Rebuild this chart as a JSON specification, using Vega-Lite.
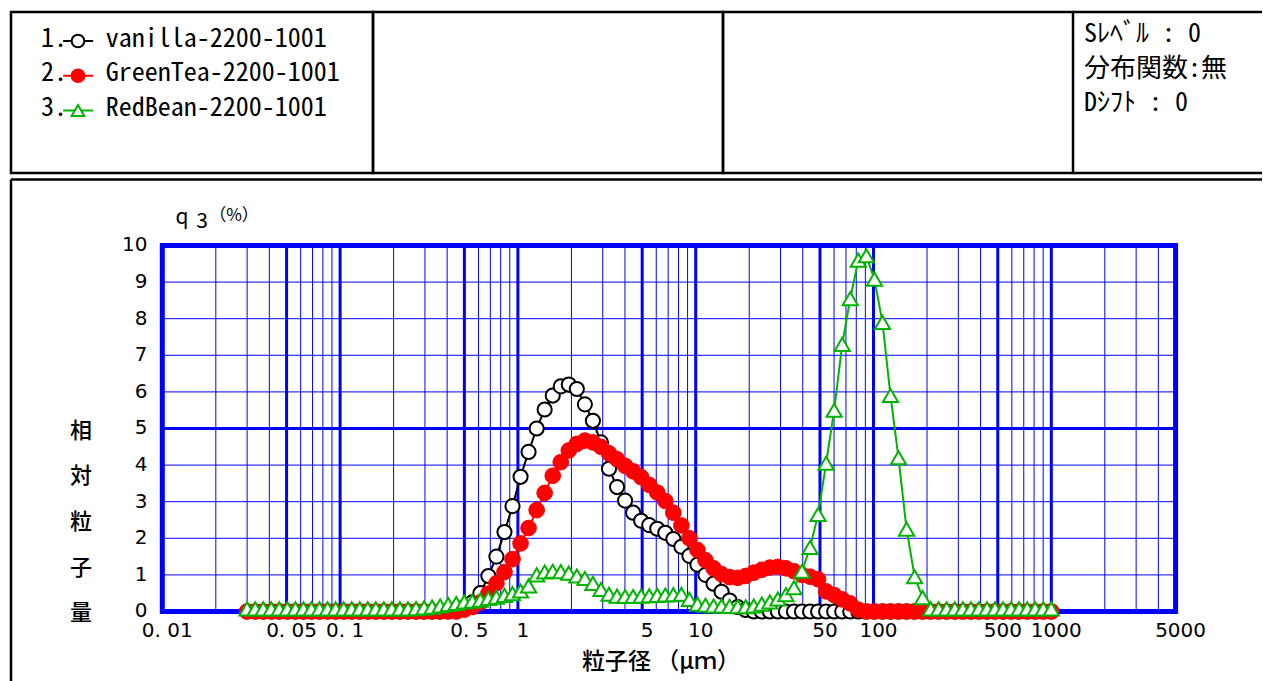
{
 "$schema": "https://vega.github.io/schema/vega-lite/v6.json",
 "background": "white",
 "padding": {"left": 9, "top": 10, "right": 0, "bottom": 0},
 "spacing": 2.5,
 "config": {"view": {"stroke": null}},
 "datasets": {
  "vanilla": [
   {"x":0.03,"y":0},{"x":0.03329,"y":0},{"x":0.03695,"y":0},{"x":0.041,"y":0},{"x":0.0455,"y":0},{"x":0.0505,"y":0},{"x":0.05604,"y":0},{"x":0.06219,"y":0},{"x":0.06902,"y":0},{"x":0.07659,"y":0},
   {"x":0.085,"y":0},{"x":0.09433,"y":0},{"x":0.1047,"y":0},{"x":0.1162,"y":0},{"x":0.1289,"y":0},{"x":0.1431,"y":0},{"x":0.1588,"y":0},{"x":0.1762,"y":0},{"x":0.1955,"y":0},{"x":0.217,"y":0},
   {"x":0.2408,"y":0},{"x":0.2673,"y":0},{"x":0.2966,"y":0},{"x":0.3291,"y":0},{"x":0.3653,"y":0},{"x":0.4054,"y":0.02},{"x":0.4499,"y":0.05},{"x":0.4992,"y":0.12},{"x":0.554,"y":0.25},{"x":0.6148,"y":0.5},
   {"x":0.6823,"y":0.97},{"x":0.7572,"y":1.5},{"x":0.8403,"y":2.17},{"x":0.9325,"y":2.88},{"x":1.035,"y":3.68},{"x":1.148,"y":4.36},{"x":1.275,"y":5.0},{"x":1.414,"y":5.52},{"x":1.57,"y":5.9},{"x":1.742,"y":6.15},
   {"x":1.933,"y":6.2},{"x":2.145,"y":6.08},{"x":2.381,"y":5.66},{"x":2.642,"y":5.21},{"x":2.932,"y":4.62},{"x":3.254,"y":3.9},{"x":3.611,"y":3.4},{"x":4.007,"y":3.03},{"x":4.447,"y":2.7},{"x":4.935,"y":2.48},
   {"x":5.477,"y":2.36},{"x":6.078,"y":2.26},{"x":6.746,"y":2.15},{"x":7.486,"y":1.98},{"x":8.308,"y":1.77},{"x":9.219,"y":1.52},{"x":10.23,"y":1.28},{"x":11.35,"y":1.0},{"x":12.6,"y":0.76},{"x":13.98,"y":0.54},
   {"x":15.52,"y":0.3},{"x":17.22,"y":0.12},{"x":19.11,"y":0.04},{"x":21.21,"y":0},{"x":23.54,"y":0},{"x":26.12,"y":0},{"x":28.99,"y":0},{"x":32.17,"y":0},{"x":35.7,"y":0},{"x":39.62,"y":0},
   {"x":43.97,"y":0},{"x":48.79,"y":0},{"x":54.15,"y":0},{"x":60.09,"y":0},{"x":66.69,"y":0},{"x":74.01,"y":0},{"x":82.13,"y":0},{"x":91.15,"y":0},{"x":101.2,"y":0},{"x":112.3,"y":0},
   {"x":124.6,"y":0},{"x":138.2,"y":0},{"x":153.4,"y":0},{"x":170.3,"y":0},{"x":188.9,"y":0},{"x":209.7,"y":0},{"x":232.7,"y":0},{"x":258.2,"y":0},{"x":286.6,"y":0},{"x":318,"y":0},
   {"x":352.9,"y":0},{"x":391.7,"y":0},{"x":434.7,"y":0},{"x":482.4,"y":0},{"x":535.3,"y":0},{"x":594.1,"y":0},{"x":659.3,"y":0},{"x":731.7,"y":0},{"x":812,"y":0},{"x":901.1,"y":0},{"x":1000,"y":0}
  ],
  "greentea": [
   {"x":0.03,"y":0},{"x":0.03329,"y":0},{"x":0.03695,"y":0},{"x":0.041,"y":0},{"x":0.0455,"y":0},{"x":0.0505,"y":0},{"x":0.05604,"y":0},{"x":0.06219,"y":0},{"x":0.06902,"y":0},{"x":0.07659,"y":0},
   {"x":0.085,"y":0},{"x":0.09433,"y":0},{"x":0.1047,"y":0},{"x":0.1162,"y":0},{"x":0.1289,"y":0},{"x":0.1431,"y":0},{"x":0.1588,"y":0},{"x":0.1762,"y":0},{"x":0.1955,"y":0},{"x":0.217,"y":0},
   {"x":0.2408,"y":0},{"x":0.2673,"y":0},{"x":0.2966,"y":0},{"x":0.3291,"y":0},{"x":0.3653,"y":0},{"x":0.4054,"y":0},{"x":0.4499,"y":0},{"x":0.4992,"y":0.05},{"x":0.554,"y":0.12},{"x":0.6148,"y":0.25},
   {"x":0.6823,"y":0.49},{"x":0.7572,"y":0.77},{"x":0.8403,"y":1.08},{"x":0.9325,"y":1.43},{"x":1.035,"y":1.86},{"x":1.148,"y":2.28},{"x":1.275,"y":2.77},{"x":1.414,"y":3.24},{"x":1.57,"y":3.71},{"x":1.742,"y":4.08},
   {"x":1.933,"y":4.4},{"x":2.145,"y":4.58},{"x":2.381,"y":4.67},{"x":2.642,"y":4.62},{"x":2.932,"y":4.5},{"x":3.254,"y":4.32},{"x":3.611,"y":4.16},{"x":4.007,"y":3.98},{"x":4.447,"y":3.83},{"x":4.935,"y":3.67},
   {"x":5.477,"y":3.46},{"x":6.078,"y":3.25},{"x":6.746,"y":3.02},{"x":7.486,"y":2.7},{"x":8.308,"y":2.35},{"x":9.219,"y":2.0},{"x":10.23,"y":1.68},{"x":11.35,"y":1.4},{"x":12.6,"y":1.18},{"x":13.98,"y":1.02},
   {"x":15.52,"y":0.94},{"x":17.22,"y":0.92},{"x":19.11,"y":0.97},{"x":21.21,"y":1.06},{"x":23.54,"y":1.14},{"x":26.12,"y":1.2},{"x":28.99,"y":1.22},{"x":32.17,"y":1.18},{"x":35.7,"y":1.1},{"x":39.62,"y":1.0},
   {"x":43.97,"y":0.95},{"x":48.79,"y":0.88},{"x":54.15,"y":0.55},{"x":60.09,"y":0.45},{"x":66.69,"y":0.33},{"x":74.01,"y":0.22},{"x":82.13,"y":0.05},{"x":91.15,"y":0},{"x":101.2,"y":0},{"x":112.3,"y":0},
   {"x":124.6,"y":0},{"x":138.2,"y":0},{"x":153.4,"y":0},{"x":170.3,"y":0},{"x":188.9,"y":0},{"x":209.7,"y":0},{"x":232.7,"y":0},{"x":258.2,"y":0},{"x":286.6,"y":0},{"x":318,"y":0},
   {"x":352.9,"y":0},{"x":391.7,"y":0},{"x":434.7,"y":0},{"x":482.4,"y":0},{"x":535.3,"y":0},{"x":594.1,"y":0},{"x":659.3,"y":0},{"x":731.7,"y":0},{"x":812,"y":0},{"x":901.1,"y":0},{"x":1000,"y":0}
  ],
  "redbean": [
   {"x":0.03,"y":0.07},{"x":0.03329,"y":0.07},{"x":0.03695,"y":0.07},{"x":0.041,"y":0.07},{"x":0.0455,"y":0.07},{"x":0.0505,"y":0.07},{"x":0.05604,"y":0.07},{"x":0.06219,"y":0.07},{"x":0.06902,"y":0.07},{"x":0.07659,"y":0.07},
   {"x":0.085,"y":0.07},{"x":0.09433,"y":0.07},{"x":0.1047,"y":0.07},{"x":0.1162,"y":0.07},{"x":0.1289,"y":0.07},{"x":0.1431,"y":0.07},{"x":0.1588,"y":0.07},{"x":0.1762,"y":0.07},{"x":0.1955,"y":0.07},{"x":0.217,"y":0.07},
   {"x":0.2408,"y":0.07},{"x":0.2673,"y":0.08},{"x":0.2966,"y":0.1},{"x":0.3291,"y":0.12},{"x":0.3653,"y":0.15},{"x":0.4054,"y":0.19},{"x":0.4499,"y":0.22},{"x":0.4992,"y":0.26},{"x":0.554,"y":0.28},{"x":0.6148,"y":0.31},
   {"x":0.6823,"y":0.36},{"x":0.7572,"y":0.39},{"x":0.8403,"y":0.44},{"x":0.9325,"y":0.49},{"x":1.035,"y":0.56},{"x":1.148,"y":0.7},{"x":1.275,"y":1.0},{"x":1.414,"y":1.08},{"x":1.57,"y":1.1},{"x":1.742,"y":1.09},
   {"x":1.933,"y":1.05},{"x":2.145,"y":0.97},{"x":2.381,"y":0.9},{"x":2.642,"y":0.77},{"x":2.932,"y":0.6},{"x":3.254,"y":0.47},{"x":3.611,"y":0.42},{"x":4.007,"y":0.41},{"x":4.447,"y":0.41},{"x":4.935,"y":0.42},
   {"x":5.477,"y":0.43},{"x":6.078,"y":0.44},{"x":6.746,"y":0.45},{"x":7.486,"y":0.46},{"x":8.308,"y":0.47},{"x":9.219,"y":0.33},{"x":10.23,"y":0.2},{"x":11.35,"y":0.17},{"x":12.6,"y":0.15},{"x":13.98,"y":0.15},
   {"x":15.52,"y":0.14},{"x":17.22,"y":0.13},{"x":19.11,"y":0.13},{"x":21.21,"y":0.15},{"x":23.54,"y":0.2},{"x":26.12,"y":0.26},{"x":28.99,"y":0.34},{"x":32.17,"y":0.46},{"x":35.7,"y":0.65},{"x":39.62,"y":1.1},
   {"x":43.97,"y":1.75},{"x":48.79,"y":2.65},{"x":54.15,"y":4.05},{"x":60.09,"y":5.5},{"x":66.69,"y":7.3},{"x":74.01,"y":8.55},{"x":82.13,"y":9.6},{"x":91.15,"y":9.72},{"x":101.2,"y":9.08},{"x":112.3,"y":7.9},
   {"x":124.6,"y":5.9},{"x":138.2,"y":4.2},{"x":153.4,"y":2.25},{"x":170.3,"y":0.95},{"x":188.9,"y":0.38},{"x":209.7,"y":0.07},{"x":232.7,"y":0.07},{"x":258.2,"y":0.07},{"x":286.6,"y":0.07},{"x":318,"y":0.07},
   {"x":352.9,"y":0.07},{"x":391.7,"y":0.07},{"x":434.7,"y":0.07},{"x":482.4,"y":0.07},{"x":535.3,"y":0.07},{"x":594.1,"y":0.07},{"x":659.3,"y":0.07},{"x":731.7,"y":0.07},{"x":812,"y":0.07},{"x":901.1,"y":0.07},{"x":1000,"y":0.07}
  ],
  "vthin": [{"v":0.02},{"v":0.03},{"v":0.04},{"v":0.06},{"v":0.07},{"v":0.08},{"v":0.09},{"v":0.2},{"v":0.3},{"v":0.4},{"v":0.6},{"v":0.7},{"v":0.8},{"v":0.9},{"v":2},{"v":3},{"v":4},{"v":6},{"v":7},{"v":8},{"v":9},{"v":20},{"v":30},{"v":40},{"v":60},{"v":70},{"v":80},{"v":90},{"v":200},{"v":300},{"v":400},{"v":600},{"v":700},{"v":800},{"v":900},{"v":2000},{"v":3000},{"v":4000}],
  "vthick": [{"v":0.05},{"v":0.1},{"v":0.5},{"v":1},{"v":5},{"v":10},{"v":50},{"v":100},{"v":500},{"v":1000}],
  "hthin": [{"h":1},{"h":2},{"h":3},{"h":4},{"h":6},{"h":7},{"h":8},{"h":9}],
  "hthick": [{"h":5}],
  "xlab": [{"v":0.01,"t":"0. 01"},{"v":0.05,"t":"0. 05"},{"v":0.1,"t":"0. 1"},{"v":0.5,"t":"0. 5"},{"v":1,"t":"1"},{"v":5,"t":"5"},{"v":10,"t":"10"},{"v":50,"t":"50"},{"v":100,"t":"100"},{"v":500,"t":"500"},{"v":1000,"t":"1000"},{"v":5000,"t":"5000"}],
  "ylab": [{"h":0,"t":"0"},{"h":1,"t":"1"},{"h":2,"t":"2"},{"h":3,"t":"3"},{"h":4,"t":"4"},{"h":5,"t":"5"},{"h":6,"t":"6"},{"h":7,"t":"7"},{"h":8,"t":"8"},{"h":9,"t":"9"},{"h":10,"t":"10"}],
  "legend": [{"n":1,"num":"1.","name":"vanilla-2200-1001"},{"n":2,"num":"2.","name":"GreenTea-2200-1001"},{"n":3,"num":"3.","name":"RedBean-2200-1001"}],
  "info": [{"n":1,"t":"Sﾚﾍﾞﾙ : 0"},{"n":2,"t":"分布関数:無"},{"n":3,"t":"Dｼﾌﾄ  : 0"}]
 },
 "vconcat": [
  {
   "hconcat": [
    {
     "width": 362, "height": 161,
     "view": {"stroke": "black", "strokeWidth": 2.5},
     "data": {"name": "legend"},
     "encoding": {"y": {"field": "n", "type": "quantitative", "scale": {"domain": [0.2374, 4.8705], "reverse": true, "nice": false, "zero": false}, "axis": null}},
     "layer": [
      {"mark": {"type": "text", "align": "left", "baseline": "middle", "font": "Noto Sans Mono CJK JP, Noto Sans CJK JP, DejaVu Sans Mono", "fontSize": 26, "color": "black"},
       "encoding": {"x": {"datum": 8.3, "type": "quantitative", "scale": {"domain": [0, 100], "nice": false}, "axis": null}, "text": {"field": "num"}}},
      {"mark": {"type": "rule", "strokeWidth": 2, "yOffset": 2.5},
       "encoding": {"x": {"datum": 14.4, "type": "quantitative", "scale": {"domain": [0, 100], "nice": false}, "axis": null}, "x2": {"datum": 22.7},
        "color": {"field": "name", "type": "nominal", "scale": {"domain": ["vanilla-2200-1001", "GreenTea-2200-1001", "RedBean-2200-1001"], "range": ["#000000", "#ff0000", "#00b400"]}, "legend": null}}},
      {"mark": {"type": "point", "opacity": 1, "size": 160, "strokeWidth": 2, "yOffset": 2.5},
       "encoding": {"x": {"datum": 18.5, "type": "quantitative", "scale": {"domain": [0, 100], "nice": false}, "axis": null},
        "shape": {"field": "name", "type": "nominal", "scale": {"domain": ["vanilla-2200-1001", "GreenTea-2200-1001", "RedBean-2200-1001"], "range": ["circle", "circle", "triangle-up"]}, "legend": null},
        "stroke": {"field": "name", "type": "nominal", "scale": {"domain": ["vanilla-2200-1001", "GreenTea-2200-1001", "RedBean-2200-1001"], "range": ["#000000", "#ff0000", "#00b400"]}, "legend": null},
        "fill": {"field": "name", "type": "nominal", "scale": {"domain": ["vanilla-2200-1001", "GreenTea-2200-1001", "RedBean-2200-1001"], "range": ["#ffffff", "#ff0000", "#ffffff"]}, "legend": null}}},
      {"mark": {"type": "text", "align": "left", "baseline": "middle", "font": "Noto Sans Mono CJK JP, Noto Sans CJK JP, DejaVu Sans Mono", "fontSize": 26, "color": "black"},
       "encoding": {"x": {"datum": 26.2, "type": "quantitative", "scale": {"domain": [0, 100], "nice": false}, "axis": null}, "text": {"field": "name"}}}
     ]
    },
    {
     "width": 350, "height": 161,
     "view": {"stroke": "black", "strokeWidth": 2.5},
     "data": {"values": [{}]},
     "mark": {"type": "text", "text": ""}
    },
    {
     "width": 350, "height": 161,
     "view": {"stroke": "black", "strokeWidth": 2.5},
     "data": {"values": [{}]},
     "mark": {"type": "text", "text": ""}
    },
    {
     "width": 189, "height": 161,
     "view": {"stroke": null},
     "layer": [
      {"data": {"name": "info"},
       "mark": {"type": "text", "align": "left", "baseline": "middle", "font": "Noto Sans Mono CJK JP, Noto Sans CJK JP", "fontSize": 26, "color": "black"},
       "encoding": {"x": {"datum": 5.82, "type": "quantitative", "scale": {"domain": [0, 100], "nice": false}, "axis": null},
        "y": {"field": "n", "type": "quantitative", "scale": {"domain": [0.348, 5.015], "reverse": true, "nice": false, "zero": false}, "axis": null},
        "text": {"field": "t"}}},
      {"data": {"values": [{}]},
       "mark": {"type": "rule", "color": "black", "strokeWidth": 2.5},
       "encoding": {"y": {"datum": 0.348, "type": "quantitative", "scale": {"domain": [0.348, 5.015], "reverse": true, "nice": false, "zero": false}, "axis": null}}},
      {"data": {"values": [{}]},
       "mark": {"type": "rule", "color": "black", "strokeWidth": 2.5},
       "encoding": {"y": {"datum": 5.015, "type": "quantitative", "scale": {"domain": [0.348, 5.015], "reverse": true, "nice": false, "zero": false}, "axis": null}}}
     ]
    }
   ],
   "spacing": 0,
   "bounds": "flush"
  },
  {
   "width": 1251, "height": 502,
   "view": {"stroke": null},
   "layer": [
    {"data": {"name": "vthin"},
     "mark": {"type": "rule", "color": "#0000ff", "strokeWidth": 1},
     "encoding": {"x": {"field": "v", "type": "quantitative", "scale": {"type": "log", "domain": [0.00140942, 15312], "nice": false}, "axis": null},
      "y": {"datum": 0, "type": "quantitative", "scale": {"domain": [-1.9126, 11.803], "nice": false, "zero": false}, "axis": null}, "y2": {"datum": 10}}},
    {"data": {"name": "hthin"},
     "mark": {"type": "rule", "color": "#0000ff", "strokeWidth": 1},
     "encoding": {"x": {"datum": 0.01, "type": "quantitative", "scale": {"type": "log", "domain": [0.00140942, 15312], "nice": false}, "axis": null}, "x2": {"datum": 5000},
      "y": {"field": "h", "type": "quantitative", "scale": {"domain": [-1.9126, 11.803], "nice": false, "zero": false}, "axis": null}}},
    {"data": {"name": "vthick"},
     "mark": {"type": "rule", "color": "#0000ff", "strokeWidth": 3},
     "encoding": {"x": {"field": "v", "type": "quantitative", "scale": {"type": "log", "domain": [0.00140942, 15312], "nice": false}, "axis": null},
      "y": {"datum": 0, "type": "quantitative", "scale": {"domain": [-1.9126, 11.803], "nice": false, "zero": false}, "axis": null}, "y2": {"datum": 10}}},
    {"data": {"name": "hthick"},
     "mark": {"type": "rule", "color": "#0000ff", "strokeWidth": 3},
     "encoding": {"x": {"datum": 0.01, "type": "quantitative", "scale": {"type": "log", "domain": [0.00140942, 15312], "nice": false}, "axis": null}, "x2": {"datum": 5000},
      "y": {"field": "h", "type": "quantitative", "scale": {"domain": [-1.9126, 11.803], "nice": false, "zero": false}, "axis": null}}},
    {"data": {"values": [{}]},
     "mark": {"type": "rect", "fill": "transparent", "stroke": "#0000ff", "strokeWidth": 5},
     "encoding": {"x": {"datum": 0.01, "type": "quantitative", "scale": {"type": "log", "domain": [0.00140942, 15312], "nice": false}, "axis": null}, "x2": {"datum": 5000},
      "y": {"datum": 0, "type": "quantitative", "scale": {"domain": [-1.9126, 11.803], "nice": false, "zero": false}, "axis": null}, "y2": {"datum": 10}}},
    {"data": {"name": "xlab"},
     "mark": {"type": "text", "font": "DejaVu Sans", "fontSize": 20, "align": "center", "baseline": "middle", "dx": 5, "color": "black"},
     "encoding": {"x": {"field": "v", "type": "quantitative", "scale": {"type": "log", "domain": [0.00140942, 15312], "nice": false}, "axis": null},
      "y": {"datum": -0.52, "type": "quantitative", "scale": {"domain": [-1.9126, 11.803], "nice": false, "zero": false}, "axis": null}, "text": {"field": "t"}}},
    {"data": {"name": "ylab"},
     "mark": {"type": "text", "font": "DejaVu Sans", "fontSize": 20, "align": "right", "baseline": "middle", "color": "black"},
     "encoding": {"x": {"datum": 0.008256, "type": "quantitative", "scale": {"type": "log", "domain": [0.00140942, 15312], "nice": false}, "axis": null},
      "y": {"field": "h", "type": "quantitative", "scale": {"domain": [-1.9126, 11.803], "nice": false, "zero": false}, "axis": null}, "text": {"field": "t"}}},
    {"data": {"values": [{}]},
     "mark": {"type": "text", "text": ["相", "対", "粒", "子", "量"], "lineHeight": 45.7, "font": "Noto Sans CJK JP", "fontSize": 22, "fontWeight": 500, "align": "center", "baseline": "middle", "color": "black"},
     "encoding": {"x": {"datum": 0.003489, "type": "quantitative", "scale": {"type": "log", "domain": [0.00140942, 15312], "nice": false}, "axis": null},
      "y": {"datum": 4.945, "type": "quantitative", "scale": {"domain": [-1.9126, 11.803], "nice": false, "zero": false}, "axis": null}}},
    {"data": {"values": [{}]},
     "mark": {"type": "text", "text": "粒子径 （μｍ）", "font": "Noto Sans CJK JP", "fontSize": 23, "fontWeight": 500, "align": "center", "baseline": "middle", "color": "black"},
     "encoding": {"x": {"datum": 6.38, "type": "quantitative", "scale": {"type": "log", "domain": [0.00140942, 15312], "nice": false}, "axis": null},
      "y": {"datum": -1.393, "type": "quantitative", "scale": {"domain": [-1.9126, 11.803], "nice": false, "zero": false}, "axis": null}}},
    {"data": {"values": [{}]},
     "mark": {"type": "text", "text": "q", "font": "Noto Sans CJK JP", "fontSize": 21, "align": "center", "baseline": "middle", "color": "black"},
     "encoding": {"x": {"datum": 0.012905, "type": "quantitative", "scale": {"type": "log", "domain": [0.00140942, 15312], "nice": false}, "axis": null},
      "y": {"datum": 10.75, "type": "quantitative", "scale": {"domain": [-1.9126, 11.803], "nice": false, "zero": false}, "axis": null}}},
    {"data": {"values": [{}]},
     "mark": {"type": "text", "text": "3", "font": "Noto Sans CJK JP", "fontSize": 21, "align": "center", "baseline": "middle", "color": "black"},
     "encoding": {"x": {"datum": 0.016726, "type": "quantitative", "scale": {"type": "log", "domain": [0.00140942, 15312], "nice": false}, "axis": null},
      "y": {"datum": 10.64, "type": "quantitative", "scale": {"domain": [-1.9126, 11.803], "nice": false, "zero": false}, "axis": null}}},
    {"data": {"values": [{}]},
     "mark": {"type": "text", "text": "（%）", "font": "Noto Sans CJK JP", "fontSize": 17, "align": "center", "baseline": "middle", "color": "black"},
     "encoding": {"x": {"datum": 0.025309, "type": "quantitative", "scale": {"type": "log", "domain": [0.00140942, 15312], "nice": false}, "axis": null},
      "y": {"datum": 10.8, "type": "quantitative", "scale": {"domain": [-1.9126, 11.803], "nice": false, "zero": false}, "axis": null}}},
    {"data": {"values": [{}]},
     "mark": {"type": "rule", "color": "black", "strokeWidth": 2.5},
     "encoding": {"x": {"datum": 0.00140942, "type": "quantitative", "scale": {"type": "log", "domain": [0.00140942, 15312], "nice": false}, "axis": null}}},
    {"data": {"values": [{}]},
     "mark": {"type": "rule", "color": "black", "strokeWidth": 2.5},
     "encoding": {"y": {"datum": 11.803, "type": "quantitative", "scale": {"domain": [-1.9126, 11.803], "nice": false, "zero": false}, "axis": null}}},
    {"data": {"name": "vanilla"},
     "mark": {"type": "line", "color": "black", "strokeWidth": 2},
     "encoding": {"x": {"field": "x", "type": "quantitative", "scale": {"type": "log", "domain": [0.00140942, 15312], "nice": false}, "axis": null},
      "y": {"field": "y", "type": "quantitative", "scale": {"domain": [-1.9126, 11.803], "nice": false, "zero": false}, "axis": null}}},
    {"data": {"name": "vanilla"},
     "mark": {"type": "point", "shape": "circle", "size": 200, "filled": true, "fill": "white", "stroke": "black", "strokeWidth": 2, "opacity": 1},
     "encoding": {"x": {"field": "x", "type": "quantitative", "scale": {"type": "log", "domain": [0.00140942, 15312], "nice": false}, "axis": null},
      "y": {"field": "y", "type": "quantitative", "scale": {"domain": [-1.9126, 11.803], "nice": false, "zero": false}, "axis": null}}},
    {"data": {"name": "greentea"},
     "mark": {"type": "line", "color": "#ff0000", "strokeWidth": 2},
     "encoding": {"x": {"field": "x", "type": "quantitative", "scale": {"type": "log", "domain": [0.00140942, 15312], "nice": false}, "axis": null},
      "y": {"field": "y", "type": "quantitative", "scale": {"domain": [-1.9126, 11.803], "nice": false, "zero": false}, "axis": null}}},
    {"data": {"name": "greentea"},
     "mark": {"type": "point", "shape": "circle", "size": 245, "filled": true, "fill": "#ff0000", "stroke": "#ff0000", "strokeWidth": 1, "opacity": 1},
     "encoding": {"x": {"field": "x", "type": "quantitative", "scale": {"type": "log", "domain": [0.00140942, 15312], "nice": false}, "axis": null},
      "y": {"field": "y", "type": "quantitative", "scale": {"domain": [-1.9126, 11.803], "nice": false, "zero": false}, "axis": null}}},
    {"data": {"name": "redbean"},
     "mark": {"type": "line", "color": "#00b400", "strokeWidth": 2},
     "encoding": {"x": {"field": "x", "type": "quantitative", "scale": {"type": "log", "domain": [0.00140942, 15312], "nice": false}, "axis": null},
      "y": {"field": "y", "type": "quantitative", "scale": {"domain": [-1.9126, 11.803], "nice": false, "zero": false}, "axis": null}}},
    {"data": {"name": "redbean"},
     "mark": {"type": "point", "shape": "triangle-up", "size": 230, "filled": true, "fill": "white", "stroke": "#00b400", "strokeWidth": 2, "opacity": 1},
     "encoding": {"x": {"field": "x", "type": "quantitative", "scale": {"type": "log", "domain": [0.00140942, 15312], "nice": false}, "axis": null},
      "y": {"field": "y", "type": "quantitative", "scale": {"domain": [-1.9126, 11.803], "nice": false, "zero": false}, "axis": null}}}
   ]
  }
 ]
}
